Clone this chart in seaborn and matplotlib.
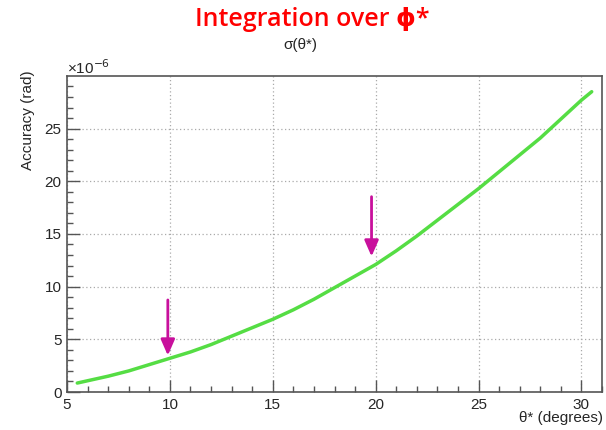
import matplotlib
matplotlib.use("Agg")
import matplotlib.pyplot as plt
import seaborn as sns
import pandas as pd
from matplotlib.ticker import MultipleLocator

theta = [5.5, 7, 8, 9, 10, 11, 12, 13, 14, 15, 16, 17, 18, 19, 20,
         21, 22, 23, 24, 25, 26, 27, 28, 29, 30, 30.5]
sigma = [0.85, 1.5, 2.0, 2.6, 3.2, 3.8, 4.5, 5.3, 6.1, 6.9, 7.8, 8.8, 9.9, 11.0, 12.1,
         13.4, 14.8, 16.3, 17.8, 19.3, 20.9, 22.5, 24.1, 25.9, 27.7, 28.5]
arrow_x = [9.9, 19.8]
arrow_top = [9.0, 18.8]
arrow_tip = [3.2, 12.6]

sns.set_theme(style="white")
plt.rcParams['font.family'] = ['Liberation Sans', 'DejaVu Sans']

fig = plt.figure(figsize=(6.06, 4.30), dpi=100)
ax = fig.add_axes([67/606, 1 - 392/430, (602-67)/606, (392-76)/430])

df = pd.DataFrame({"theta": theta, "sigma": sigma})
sns.lineplot(data=df, x="theta", y="sigma", ax=ax, color="#55dd44", linewidth=2.5)

for xa, yt, yb in zip(arrow_x, arrow_top, arrow_tip):
    ax.annotate("", xy=(xa, yb), xytext=(xa, yt),
                arrowprops=dict(arrowstyle="-|>,head_width=0.35,head_length=0.8",
                                color="#c8109c", lw=2))

ax.set_xlim(5, 31)
ax.set_ylim(0, 29.99)
ax.xaxis.set_major_locator(MultipleLocator(5))
ax.xaxis.set_minor_locator(MultipleLocator(1))
ax.yaxis.set_major_locator(MultipleLocator(5))
ax.yaxis.set_minor_locator(MultipleLocator(1))
ax.tick_params(which="major", direction="in", length=9, width=1, color="#555555",
               labelsize=11, bottom=True, left=True, pad=4)
ax.tick_params(which="minor", direction="in", length=4.5, width=1, color="#555555",
               bottom=True, left=True)
ax.grid(True, which="major", linestyle=(0, (1, 2)), color="#aaaaaa", linewidth=0.9)
for s in ax.spines.values():
    s.set_color("#555555")
    s.set_linewidth(1.2)

ax.set_xlabel("")
ax.set_ylabel("")
fig.text(603/606, 1 - 418/430, "θ* (degrees)", ha="right", va="center", fontsize=11)
fig.text(28/606, 1 - 120/430, "Accuracy (rad)", ha="center", va="center",
         rotation=90, fontsize=11)
fig.text(67/606, 1 - 68/430, "×10$^{-6}$", ha="left", va="center", fontsize=11)
fig.text(300/606, 1 - 45/430, "σ(θ*)", ha="center", va="center", fontsize=11)
fig.text(312/606, 1 - 19/430, "Integration over ϕ*", ha="center", va="center",
         fontsize=18, color="#ff0000", fontweight="semibold",
         family=["Open Sans", "DejaVu Sans"])

fig.savefig("out.png", dpi=100)
